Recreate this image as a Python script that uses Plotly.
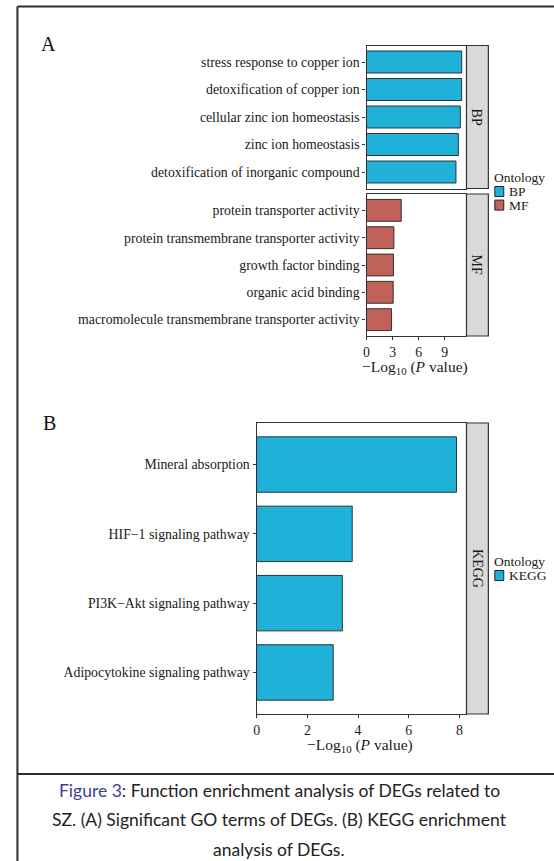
import plotly.graph_objects as go

W, H = 554, 861

# GO enrichment (panel A)
bp_terms = ["stress response to copper ion", "detoxification of copper ion",
            "cellular zinc ion homeostasis", "zinc ion homeostasis",
            "detoxification of inorganic compound"]
bp_values = [10.96, 10.95, 10.80, 10.57, 10.30]
mf_terms = ["protein transporter activity", "protein transmembrane transporter activity",
            "growth factor binding", "organic acid binding",
            "macromolecule transmembrane transporter activity"]
mf_values = [4.00, 3.15, 3.10, 3.07, 2.88]
go_ticks = [0, 3, 6, 9]

# KEGG enrichment (panel B)
kegg_terms = ["Mineral absorption", "HIF\u22121 signaling pathway",
              "PI3K\u2212Akt signaling pathway", "Adipocytokine signaling pathway"]
kegg_values = [7.88, 3.77, 3.38, 3.02]
kegg_ticks = [0, 2, 4, 6, 8]

BLUE = "#20b1d9"
RED = "#c0625a"
EDGE = "#222222"
LINE = "#333333"
TEXT = "#1a1a1a"
SERIF = "Liberation Serif"
CAPTION_FONT = "Lato"


def fx(px):
    return px / W


def fy(py):
    return 1 - py / H


fig = go.Figure()

fig.add_trace(go.Bar(x=bp_values, y=bp_terms, orientation="h", xaxis="x2", yaxis="y",
                     marker=dict(color=BLUE, line=dict(color=EDGE, width=0.9)),
                     showlegend=False, hoverinfo="x+y"))
fig.add_trace(go.Bar(x=mf_values, y=mf_terms, orientation="h", xaxis="x", yaxis="y2",
                     marker=dict(color=RED, line=dict(color=EDGE, width=0.9)),
                     showlegend=False, hoverinfo="x+y"))
fig.add_trace(go.Bar(x=kegg_values, y=kegg_terms, orientation="h", xaxis="x3", yaxis="y3",
                     marker=dict(color=BLUE, line=dict(color=EDGE, width=0.9)),
                     showlegend=False, hoverinfo="x+y"))

go_max = max(bp_values + mf_values) * 1.05
kegg_max = max(kegg_values) * 1.05

A_X = [fx(365.5), fx(466)]
B_X = [fx(255), fx(466)]
BP_Y = [fy(188.5), fy(45.5)]
MF_Y = [fy(336), fy(194)]
KG_Y = [fy(714), fy(423)]

axis_common = dict(showline=True, mirror=True, linecolor=LINE, linewidth=1.2,
                   showgrid=False, zeroline=False, ticks="outside", ticklen=3,
                   tickcolor=LINE, tickwidth=1,
                   tickfont=dict(family=SERIF, size=13.8, color=TEXT))


def cat_axis(terms, domain, anchor):
    n = len(terms)
    return dict(axis_common, domain=domain, anchor=anchor, type="category",
                categoryorder="array", categoryarray=terms,
                range=[n - 0.4, -0.6], fixedrange=True)


fig.update_layout(
    width=W, height=H,
    margin=dict(l=0, r=0, t=0, b=0),
    paper_bgcolor="white", plot_bgcolor="white",
    bargap=0.2,
    xaxis=dict(axis_common, domain=A_X, anchor="y2", range=[0, go_max],
               tickmode="array", tickvals=go_ticks, ticktext=[str(t) for t in go_ticks]),
    xaxis2=dict(axis_common, domain=A_X, anchor="y", range=[0, go_max],
                ticks="", showticklabels=False),
    xaxis3=dict(axis_common, domain=B_X, anchor="y3", range=[0, kegg_max],
                tickmode="array", tickvals=kegg_ticks, ticktext=[str(t) for t in kegg_ticks]),
    yaxis=cat_axis(bp_terms, BP_Y, "x2"),
    yaxis2=cat_axis(mf_terms, MF_Y, "x"),
    yaxis3=cat_axis(kegg_terms, KG_Y, "x3"),
)

shapes = []
annotations = []


def label(x, y, text, size, xanchor="center", yanchor="middle", angle=0,
          family=SERIF, color=TEXT):
    annotations.append(dict(xref="paper", yref="paper", x=fx(x), y=fy(y), text=text,
                            showarrow=False, xanchor=xanchor, yanchor=yanchor,
                            textangle=angle, font=dict(family=family, size=size, color=color)))


# facet strips on the right of each panel
for name, ydom, (top, bottom) in [("BP", BP_Y, (45.5, 188.5)), ("MF", MF_Y, (194, 336)),
                                  ("KEGG", KG_Y, (423, 714))]:
    shapes.append(dict(type="rect", xref="paper", yref="paper",
                       x0=fx(466), x1=fx(488), y0=ydom[0], y1=ydom[1],
                       fillcolor="#d9d9d9", line=dict(color=LINE, width=1.2), layer="below"))
    label(477, (top + bottom) / 2, name, 14, angle=90)


# legends
def legend(title_y, items):
    label(492, title_y, "Ontology", 13.5, xanchor="left")
    for i, (lab, col) in enumerate(items):
        top = title_y + 9 + i * 13.6
        shapes.append(dict(type="rect", xref="paper", yref="paper",
                           x0=fx(494.5), x1=fx(503.5), y0=fy(top + 10), y1=fy(top),
                           fillcolor=col, line=dict(color=EDGE, width=1)))
        label(507, top + 5, lab, 13.5, xanchor="left")


legend(177.5, [("BP", BLUE), ("MF", RED)])
legend(561.5, [("KEGG", BLUE)])

# axis titles
xtitle = "\u2212Log<sub>10</sub> (<i>P</i> value)"
label(414, 367, xtitle, 15.5)
label(358.5, 745, xtitle, 15.5)

# panel letters
label(46, 44, "A", 20, color="#111")
label(47, 423, "B", 20, color="#111")

# frame around the figure and the caption rule
frame = dict(color="#2b2b2b", width=2)
shapes.append(dict(type="line", xref="paper", yref="paper",
                   x0=fx(14.5), x1=1, y0=fy(6.5), y1=fy(6.5), line=frame))
shapes.append(dict(type="line", xref="paper", yref="paper",
                   x0=fx(14.5), x1=fx(14.5), y0=fy(6.5), y1=0, line=frame))
shapes.append(dict(type="line", xref="paper", yref="paper",
                   x0=fx(14.5), x1=1, y0=fy(774), y1=fy(774), line=frame))

# caption
caption_lines = [
    "<span style='color:#3d3f92'>Figure 3</span>: Function enrichment analysis of DEGs related to",
    "SZ. (A) Significant GO terms of DEGs. (B) KEGG enrichment",
    "analysis of DEGs.",
]
for i, line in enumerate(caption_lines):
    label(278, 790 + i * 29.5, line, 17.5, family=CAPTION_FONT, color="#222")

fig.update_layout(shapes=shapes, annotations=annotations)

fig.write_html("out.html")
